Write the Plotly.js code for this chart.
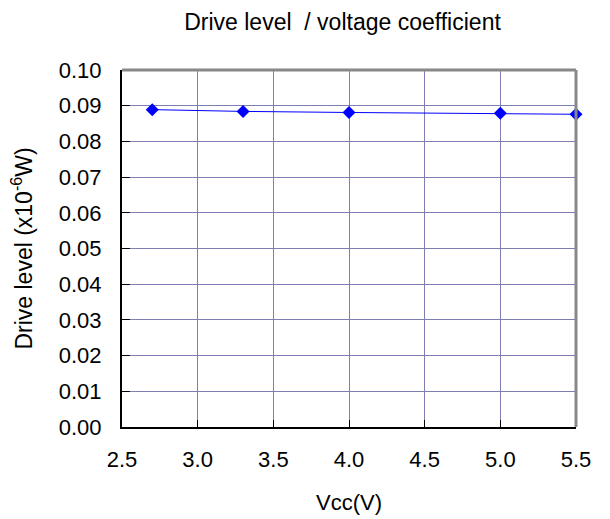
<!DOCTYPE html>
<html>
<head>
<meta charset="utf-8">
<script src="https://cdn.plot.ly/plotly-3.0.1.min.js"></script>
<style>html,body{margin:0;padding:0;background:#fff;}#chart{width:610px;height:519px;}</style>
</head>
<body>
<div id="chart"></div>
<script>
var vcc = [2.7, 3.3, 4.0, 5.0, 5.5];
var driveLevel = [0.0889, 0.0884, 0.0881, 0.0879, 0.0876];
var xTicks = [2.5, 3.0, 3.5, 4.0, 4.5, 5.0, 5.5];
var xTickLabels = ['2.5', '3.0', '3.5', '4.0', '4.5', '5.0', '5.5'];
var yTicks = [0, 0.01, 0.02, 0.03, 0.04, 0.05, 0.06, 0.07, 0.08, 0.09, 0.10];
var yTickLabels = ['0.00', '0.01', '0.02', '0.03', '0.04', '0.05', '0.06', '0.07', '0.08', '0.09', '0.10'];

var font = 'Liberation Sans, Arial, sans-serif';
var trace = {
  x: vcc, y: driveLevel, type: 'scatter', mode: 'lines+markers',
  line: {color: '#0000ff', width: 1},
  marker: {symbol: 'diamond', size: 10, color: '#0000ff'},
  cliponaxis: false, hoverinfo: 'none'
};
var layout = {
  width: 610, height: 519,
  margin: {l: 122, r: 34, t: 70, b: 92},
  paper_bgcolor: '#fff', plot_bgcolor: '#fff',
  showlegend: false,
  title: {text: 'Drive level \u00a0/ voltage coefficient', font: {family: font, size: 23, color: '#000'}, x: 0.5615, xanchor: 'center', y: 0.9586, yanchor: 'middle'},
  xaxis: {
    range: [2.5, 5.5], tickmode: 'array', tickvals: xTicks, ticktext: xTickLabels,
    showgrid: true, gridcolor: '#7e7eb2', gridwidth: 1,
    showline: true, linecolor: '#000', linewidth: 2,
    ticks: 'inside', ticklen: 7, tickcolor: '#000', tickwidth: 1,
    ticklabelstandoff: 12,
    tickfont: {family: font, size: 22, color: '#000'},
    zeroline: false,
    title: {text: 'Vcc(V)', font: {family: font, size: 22, color: '#000'}, standoff: 23}
  },
  yaxis: {
    range: [0, 0.10], tickmode: 'array', tickvals: yTicks, ticktext: yTickLabels,
    showgrid: true, gridcolor: '#7e7eb2', gridwidth: 1,
    showline: true, linecolor: '#000', linewidth: 2,
    ticks: 'inside', ticklen: 8, tickcolor: '#000', tickwidth: 1,
    ticklabelstandoff: 14,
    tickfont: {family: font, size: 22, color: '#000'},
    zeroline: false,
    title: {text: 'Drive level (x10<sup>-6</sup>W)', font: {family: font, size: 23, color: '#000'}, standoff: 20}
  },
  shapes: [
    {type: 'line', xref: 'paper', yref: 'paper', x0: 0, x1: 1, y0: 1, y1: 1, line: {color: '#888', width: 3}},
    {type: 'line', xref: 'paper', yref: 'paper', x0: 1, x1: 1, y0: 0, y1: 1, line: {color: '#888', width: 3}}
  ]
};
Plotly.newPlot('chart', [trace], layout, {displayModeBar: false, staticPlot: true});
</script>
</body>
</html>
